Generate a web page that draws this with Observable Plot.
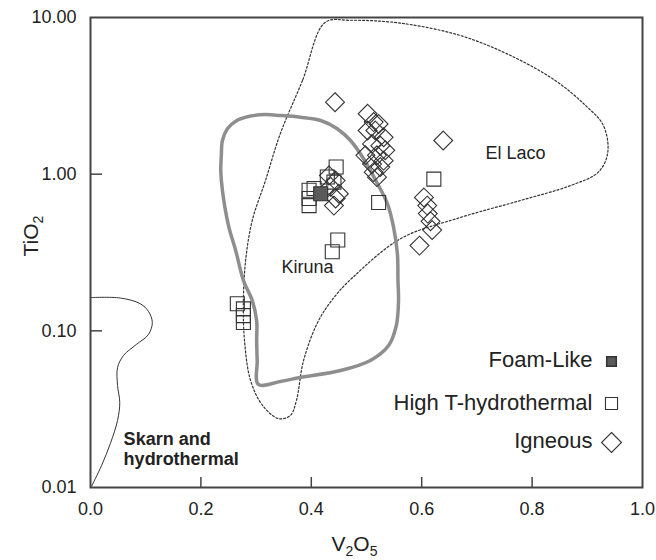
<!DOCTYPE html>
<html><head><meta charset="utf-8">
<script src="https://cdn.jsdelivr.net/npm/d3@7"></script>
<script src="https://cdn.jsdelivr.net/npm/@observablehq/plot@0.6"></script>
<style>
body{margin:0;background:#fff;}
#chart{width:656px;height:560px;}
</style></head><body><div id="chart"></div>
<script>
// ---- tick values ----
const xTicks = [0.2, 0.4, 0.6, 0.8];
const xTickLabels = [0, 0.2, 0.4, 0.6, 0.8, 1.0];
const yTicks = [0.1, 1];
const yTickLabels = [0.01, 0.1, 1, 10];

// ---- sample points ----
const foamX = [0.417];
const foamY = [0.75];
const hydroX = [0.445,0.396,0.396,0.396,0.405,0.429,0.441,0.522,0.448,0.438,0.622,0.266,0.277,0.277,0.277];
const hydroY = [1.11,0.79,0.70,0.63,0.81,0.96,0.89,0.66,0.38,0.32,0.93,0.149,0.138,0.125,0.113];
const igneousX = [0.443,0.639,0.502,0.513,0.522,0.502,0.516,0.531,0.510,0.525,0.534,0.498,0.519,0.531,0.510,0.525,0.513,0.519,0.432,0.444,0.435,0.450,0.444,0.441,0.604,0.610,0.611,0.616,0.619,0.596];
const igneousY = [2.88,1.64,2.43,2.15,2.09,1.90,1.90,1.72,1.56,1.52,1.42,1.32,1.32,1.22,1.16,1.11,1.03,0.957,0.98,0.91,0.83,0.75,0.70,0.63,0.71,0.63,0.56,0.50,0.44,0.35];

// ---- field outlines ----
const kirunaX = [0.239,0.237,0.236,0.239,0.250,0.263,0.277,0.293,0.301,0.301,0.302,0.304,0.344,0.380,0.453,0.507,0.540,0.554,0.558,0.557,0.556,0.549,0.538,0.520,0.495,0.471,0.447,0.417,0.380,0.344,0.317,0.290,0.263,0.248];
const kirunaY = [1.64,1.32,1.05,0.787,0.47,0.326,0.21,0.156,0.116,0.0867,0.0647,0.0455,0.0475,0.0504,0.0558,0.0647,0.0806,0.108,0.156,0.21,0.31,0.459,0.647,0.868,1.25,1.64,1.95,2.20,2.31,2.37,2.40,2.35,2.18,1.95];
const elLacoX = [0.425,0.384,0.344,0.317,0.293,0.281,0.277,0.279,0.290,0.312,0.341,0.362,0.373,0.386,0.413,0.444,0.475,0.562,0.670,0.779,0.870,0.920,0.937,0.929,0.897,0.842,0.761,0.670,0.562,0.470];
const elLacoY = [9.3,3.96,1.82,0.911,0.506,0.281,0.156,0.0867,0.0482,0.0333,0.0275,0.0288,0.0359,0.0647,0.116,0.168,0.219,0.388,0.529,0.679,0.847,1.03,1.37,2.05,2.74,3.96,5.72,7.67,9.2,9.6];
const skarnX = [0,0.054,0.090,0.105,0.112,0.105,0.083,0.060,0.049,0.049,0.053,0.049,0.036,0.020,0.002];
const skarnY = [0.163,0.162,0.149,0.133,0.113,0.0948,0.0818,0.0697,0.0583,0.0448,0.0349,0.0268,0.0191,0.0138,0.0102];

// ---- annotations ----
const areaLabels = ["El Laco", "Kiruna"];
const areaLabelX = [0.770, 0.393];
const areaLabelY = [1.37, 0.254];
const skarnLabel = ["Skarn and\nhydrothermal"];
const skarnLabelX = [0.060];
const skarnLabelY = [0.0177];
const legendLabels = ["Foam-Like", "High T-hydrothermal", "Igneous"];

const zip = (xs, ys) => xs.map((x, i) => ({x, y: ys[i]}));
const ink = "#333";
const legendDy = [-128, -85, -47];
const symDy = [-126, -84, -45];

const plot = Plot.plot({
  width: 656, height: 560,
  marginLeft: 90, marginRight: 14, marginTop: 17, marginBottom: 73,
  style: {fontFamily: "'Liberation Sans', Arial, sans-serif", color: "#222", background: "#fff"},
  x: {domain: [0, 1], label: null},
  y: {type: "log", domain: [0.01, 10], label: null},
  marks: [
    Plot.line(zip(skarnX, skarnY), {x: "x", y: "y", curve: "catmull-rom", stroke: ink, strokeWidth: 1}),
    Plot.line(zip(elLacoX, elLacoY), {x: "x", y: "y", curve: "catmull-rom-closed", stroke: ink, strokeWidth: 1.2, strokeDasharray: "2,2"}),
    Plot.line(zip(kirunaX, kirunaY), {x: "x", y: "y", curve: "catmull-rom-closed", stroke: "#8e8e8e", strokeWidth: 3.5}),
    Plot.dot(zip(hydroX, hydroY), {x: "x", y: "y", symbol: "square", r: 7.9, fill: "none", stroke: ink, strokeWidth: 1.1}),
    Plot.dot(zip(igneousX, igneousY), {x: "x", y: "y", symbol: d3.symbolDiamond2, r: 8.5, fill: "none", stroke: ink, strokeWidth: 1.1}),
    Plot.dot(zip(foamX, foamY), {x: "x", y: "y", symbol: "square", r: 7.9, fill: "#5a5a5a", stroke: ink, strokeWidth: 1.1}),
    Plot.text(areaLabels, {x: (d, i) => areaLabelX[i], y: (d, i) => areaLabelY[i], text: d => d, fontSize: 18, fill: "#222"}),
    Plot.text(skarnLabel, {x: (d, i) => skarnLabelX[i], y: (d, i) => skarnLabelY[i], text: d => d, fontSize: 18, fontWeight: "bold", textAnchor: "start", lineHeight: 1.1, fill: "#222"}),
    // legend
    ...legendLabels.map((lab, i) => Plot.text([lab], {x: null, y: null, text: d => d, frameAnchor: "bottom-right", dx: -50, dy: legendDy[i], textAnchor: "end", lineAnchor: "middle", fontSize: 22, fill: "#222"})),
    Plot.dot([legendLabels[0]], {x: null, y: null, frameAnchor: "bottom-right", dx: -31, dy: symDy[0], symbol: "square", r: 5.4, fill: "#5a5a5a", stroke: ink}),
    Plot.dot([legendLabels[1]], {x: null, y: null, frameAnchor: "bottom-right", dx: -31, dy: symDy[1], symbol: "square", r: 6.8, fill: "none", stroke: ink, strokeWidth: 1.1}),
    Plot.dot([legendLabels[2]], {x: null, y: null, frameAnchor: "bottom-right", dx: -31, dy: symDy[2], symbol: d3.symbolDiamond2, r: 9, fill: "none", stroke: ink, strokeWidth: 1.1}),
    // axes
    Plot.ruleX(xTicks, {x: d => d, insetTop: 460, stroke: "#444", strokeWidth: 1.5}),
    Plot.ruleY(yTicks, {y: d => d, insetRight: 540, stroke: "#444", strokeWidth: 1.5}),
    Plot.axisX(xTickLabels, {anchor: "bottom", tickSize: 0, tickPadding: 15, tickFormat: d => d.toFixed(1), fontSize: 18}),
    Plot.axisY(yTickLabels, {anchor: "left", tickSize: 0, tickPadding: 14, tickFormat: d => d.toFixed(2), fontSize: 18}),
    Plot.frame({stroke: "#444", strokeWidth: 2}),
    Plot.text(["V2O5"], {x: null, y: null, frameAnchor: "bottom", dx: -12, dy: 63, lineAnchor: "bottom", fontSize: 21, fill: "#222"}),
    Plot.text(["TiO2"], {x: null, y: null, frameAnchor: "left", dx: -53, dy: 4, rotate: -90, lineAnchor: "bottom", fontSize: 21, fill: "#222"})
  ]
});
document.getElementById("chart").append(plot);

plot.querySelectorAll("text").forEach(t => {
  if (t.textContent === "TiO2") {
    t.innerHTML = 'TiO<tspan dy="5" font-size="14">2</tspan>';
  } else if (t.textContent === "V2O5") {
    t.innerHTML = 'V<tspan dy="5" font-size="14">2</tspan><tspan dy="-5">O</tspan><tspan dy="5" font-size="14">5</tspan>';
  }
});
</script></body></html>
